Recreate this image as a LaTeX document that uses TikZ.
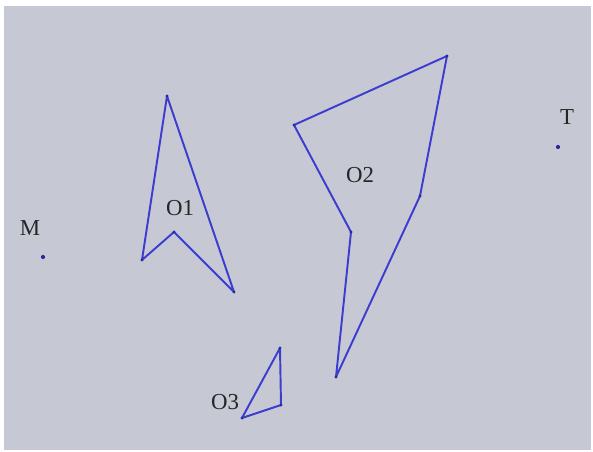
\documentclass[tikz,border=0pt]{standalone}
\usepackage{fontspec}
\setmainfont{Liberation Serif}

\definecolor{bgGray}{HTML}{C6C9D4}
\definecolor{edgeBlue}{HTML}{3C3CCF}
\definecolor{dotBlue}{HTML}{2A2A9A}

\tikzset{
  obst/.style={edgeBlue, line width=1.1pt, line join=round},
  vtx/.style={circle, fill=dotBlue, inner sep=0pt, minimum size=2.4pt},
  lbl/.style={font=\fontsize{13}{15}\selectfont, text=black!85}
}

\begin{document}
\begin{tikzpicture}[x=0.02cm, y=-0.02cm]
\useasboundingbox (0,0) rectangle (593,452);
\fill[white] (0,0) rectangle (593,452);
\fill[bgGray] (4,6) rectangle (591,450);
% start and target:
\node[vtx] (M) at (43,257) {};
\node[lbl] (Mlbl) at (30,228) {M};
\node[vtx] (T) at (558,147) {};
\node[lbl] (Tlbl) at (567,117) {T};
% obstacle O1:
\coordinate (a1) at (167,96);
\coordinate (a2) at (234,292);
\coordinate (a3) at (174,232);
\coordinate (a4) at (142,260);
\draw[obst] (a1) -- (a2) -- (a3) -- (a4) -- cycle;
\foreach \p in {a1,a2,a3,a4} \node[vtx, minimum size=1.8pt] at (\p) {};
\node[lbl] (O1) at (180,208) {O1};
% obstacle O2:
\coordinate (b1) at (447,56);
\coordinate (b2) at (294,125);
\coordinate (b3) at (351,232);
\coordinate (b4) at (336,377);
\coordinate (b5) at (420,196);
\draw[obst] (b1) -- (b2) -- (b3) -- (b4) -- (b5) -- cycle;
\foreach \p in {b1,b2,b3,b4,b5} \node[vtx, minimum size=1.8pt] at (\p) {};
\node[lbl] (O2) at (360,175) {O2};
% obstacle O3:
\coordinate (c1) at (280,348);
\coordinate (c2) at (281,405);
\coordinate (c3) at (242,418);
\draw[obst] (c1) -- (c2) -- (c3) -- cycle;
\foreach \p in {c1,c2,c3} \node[vtx, minimum size=1.8pt] at (\p) {};
\node[lbl] (O3) at (225,402) {O3};
\end{tikzpicture}
\end{document}
